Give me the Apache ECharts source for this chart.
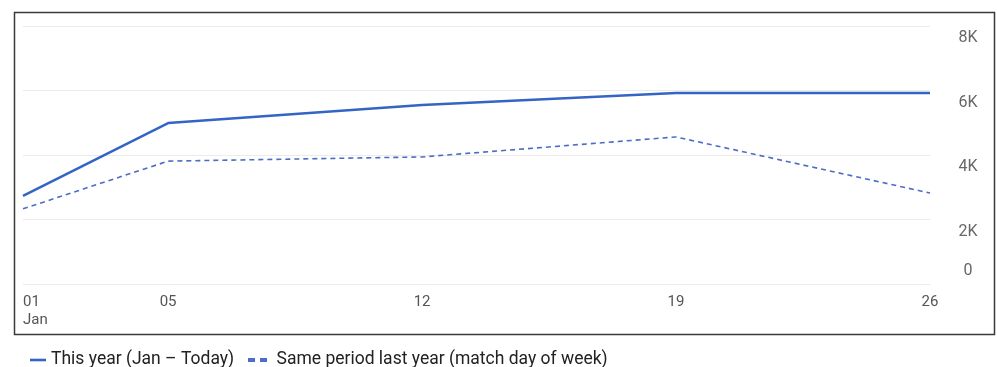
<!DOCTYPE html>
<html>
<head>
<meta charset="utf-8">
<script src="https://cdn.jsdelivr.net/npm/echarts@6/dist/echarts.min.js"></script>
<style>
html,body{margin:0;padding:0;background:#fff;}
#c{width:997px;height:367px;}
</style>
</head>
<body>
<div id="c"></div>
<script>
const days = [1, 5, 12, 19, 26];
const dayLabels = ['01\nJan', '05', '12', '19', '26'];
const thisYear = [2730, 4990, 5550, 5920, 5920];
const lastYear = [2330, 3810, 3940, 4560, 2820];
const yTicks = [0, 2000, 4000, 6000, 8000];
const seriesNames = ['This year (Jan \u2013 Today)', 'Same period last year (match day of week)'];

const chart = echarts.init(document.getElementById('c'), null, {renderer: 'canvas'});
const FONT = 'Roboto, "Noto Sans", sans-serif';
chart.setOption({
  animation: false,
  backgroundColor: '#fff',
  textStyle: {fontFamily: FONT},
  grid: {left: 23, right: 67, top: 26, bottom: 83, containLabel: false},
  graphic: [{
    type: 'rect', left: 12, top: 10, z: 10, silent: true,
    shape: {x: 0, y: 0, width: 980, height: 322},
    style: {fill: 'none', stroke: '#3a3a3a', lineWidth: 1.5}
  }],
  legend: [
    {
      left: 25, top: 346, itemWidth: 16, itemHeight: 3,
      textStyle: {fontSize: 17.5, color: '#222', fontFamily: FONT},
      data: [{name: seriesNames[0], icon: 'path://M0,0H16V2.6H0Z'}]
    },
    {
      left: 243, top: 346, itemWidth: 20, itemHeight: 4,
      textStyle: {fontSize: 17.5, color: '#222', fontFamily: FONT, padding: [0, 0, 0, 4]},
      data: [{name: seriesNames[1], icon: 'path://M0,0H7V4H0Z M12,0H19V4H12Z'}]
    }
  ],
  xAxis: {
    type: 'value', min: 1, max: 26,
    axisLine: {show: false}, axisTick: {show: false}, splitLine: {show: false},
    axisLabel: {
      customValues: days,
      alignMinLabel: 'left',
      margin: 9, fontSize: 15, color: '#555', lineHeight: 18, fontFamily: FONT,
      formatter: function (v) { const i = days.indexOf(v); return i >= 0 ? dayLabels[i] : ''; }
    }
  },
  yAxis: {
    type: 'value', position: 'right', min: 0, max: 8000, interval: 2000,
    axisLine: {show: false}, axisTick: {show: false},
    splitLine: {lineStyle: {color: '#ebebeb', width: 1}},
    axisLabel: {
      align: 'center', margin: 38, fontSize: 16, color: '#666', fontFamily: FONT,
      formatter: function (v) { return v === 0 ? '{z|0}' : '{n|' + (v / 1000) + 'K}'; },
      rich: {
        n: {padding: [24, 0, 0, 0], fontSize: 16, color: '#666'},
        z: {padding: [0, 0, 26, 0], fontSize: 16, color: '#666'}
      }
    }
  },
  series: [
    {
      name: seriesNames[0], type: 'line', symbol: 'none',
      data: days.map((d, i) => [d, thisYear[i]]),
      lineStyle: {color: '#3465c6', width: 2.5}, itemStyle: {color: '#3465c6'}
    },
    {
      name: seriesNames[1], type: 'line', symbol: 'none',
      data: days.map((d, i) => [d, lastYear[i]]),
      lineStyle: {color: '#4c6cc6', width: 1.6, type: [5, 4]}, itemStyle: {color: '#4c6cc6'}
    }
  ]
});
</script>
</body>
</html>
